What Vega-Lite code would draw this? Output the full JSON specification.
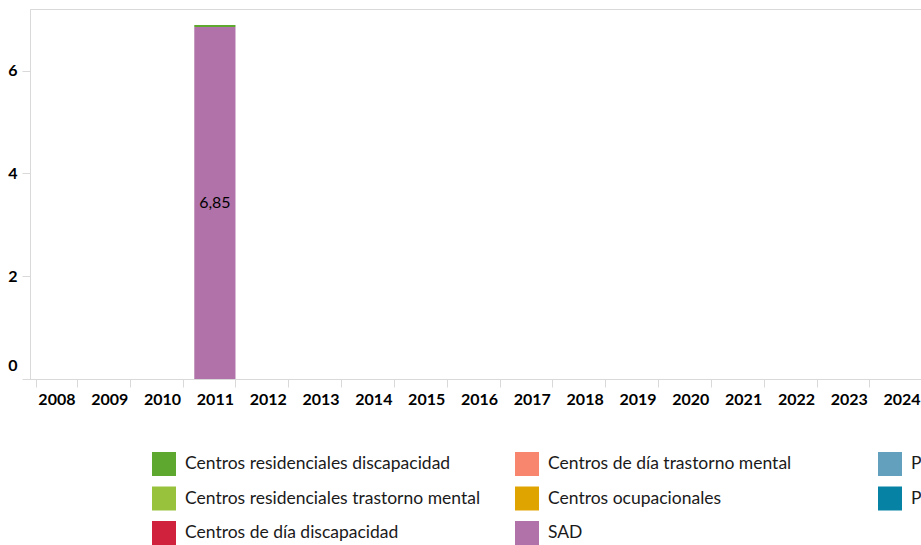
{
  "$schema": "https://vega.github.io/schema/vega-lite/v6.json",
  "autosize": {"type": "none"},
  "padding": {"left": 30, "top": 9, "right": 0, "bottom": 166},
  "width": 891,
  "height": 370,
  "background": "white",
  "config": {
    "font": "Lato",
    "view": {"stroke": "#d9d9d9", "strokeWidth": 1},
    "locale": {"number": {"decimal": ",", "thousands": ".", "grouping": [3], "currency": ["", " €"]}}
  },
  "data": {
    "values": [
      {"anio": "2011", "serie": "SAD", "valor": 6.85},
      {"anio": "2011", "serie": "Centros residenciales discapacidad", "valor": 0.04}
    ]
  },
  "layer": [
    {
      "mark": {"type": "bar", "stroke": null},
      "encoding": {
        "x": {
          "field": "anio", "type": "nominal",
          "scale": {"domain": ["2008","2009","2010","2011","2012","2013","2014","2015","2016","2017","2018","2019","2020","2021","2022","2023","2024"], "range": [0, 898], "paddingInner": 0.22, "paddingOuter": 0.11},
          "axis": {"title": null, "labelAngle": 0, "labelFontWeight": "bold", "labelFontSize": 16, "labelColor": "#000000", "tickBand": "extent", "tickSize": 8, "tickColor": "#d9d9d9", "domainColor": "#d9d9d9", "labelPadding": 4}
        },
        "y": {
          "field": "valor", "type": "quantitative", "stack": "zero",
          "scale": {"domain": [0, 7.2], "nice": false},
          "axis": {"title": null, "values": [0, 2, 4, 6], "grid": false, "tickSize": 8, "tickColor": "#d9d9d9", "domainColor": "#d9d9d9", "labelFontWeight": "bold", "labelFontSize": 16, "labelColor": "#000000", "labelPadding": 5, "labelFlush": true, "labelFlushOffset": -6}
        },
        "order": {"field": "serie", "sort": "descending"},
        "color": {
          "field": "serie", "type": "nominal",
          "scale": {
            "domain": ["Centros residenciales discapacidad", "Centros residenciales trastorno mental", "Centros de día discapacidad", "Centros de día trastorno mental", "Centros ocupacionales", "SAD", "Prestaciones económicas", "Plazas concertadas"],
            "range": ["#5ea830", "#98c23c", "#d0213d", "#f8856e", "#e0a400", "#b072a9", "#62a0be", "#0582a4"]
          },
          "legend": {
            "title": null, "orient": "none", "legendX": 122, "legendY": 443,
            "columns": 3, "gridAlign": "all", "columnPadding": 34, "rowPadding": 10.5,
            "symbolType": "square", "symbolSize": 576, "symbolStrokeWidth": 0, "symbolOpacity": 1,
            "labelFontSize": 17.5, "labelColor": "#1a1a1a", "labelOffset": 9, "labelLimit": 400
          }
        }
      }
    },
    {
      "transform": [{"filter": "datum.serie === 'SAD'"}, {"calculate": "datum.valor / 2", "as": "medio"}],
      "mark": {"type": "text", "fontSize": 16, "color": "#000000"},
      "encoding": {
        "x": {"field": "anio", "type": "nominal"},
        "y": {"field": "medio", "type": "quantitative"},
        "text": {"field": "valor", "type": "quantitative", "format": ".2f"}
      }
    }
  ]
}
